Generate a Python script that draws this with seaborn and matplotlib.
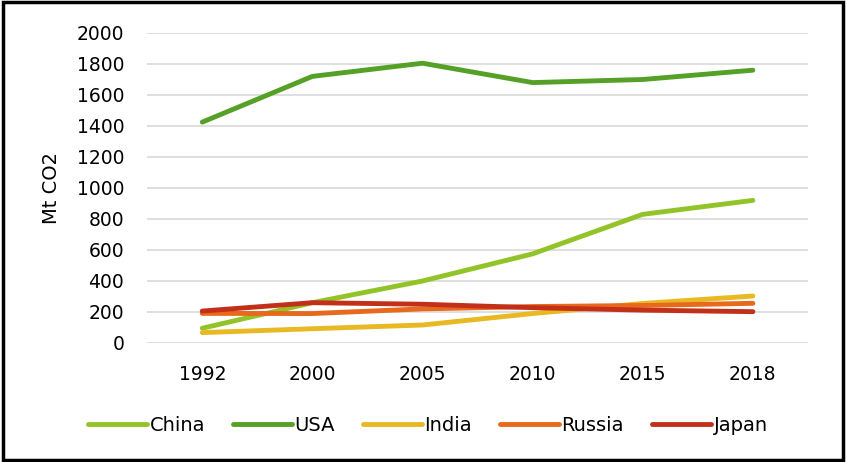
import pandas as pd
import matplotlib.pyplot as plt
import seaborn as sns
from matplotlib.patches import Rectangle

# values
YEARS = ['1992', '2000', '2005', '2010', '2015', '2018']
COUNTRIES = ['China', 'USA', 'India', 'Russia', 'Japan']
china = [95, 260, 400, 575, 830, 920]
usa = [1425, 1720, 1805, 1680, 1700, 1760]
india = [67, 92, 116, 190, 255, 303]
russia = [191, 190, 220, 235, 242, 256]
japan = [206, 260, 250, 228, 212, 202]

COLORS = ['#92c42a', '#55a127', '#e8b922', '#e8681c', '#c3301a']

sns.set_style('white')
plt.rcParams['font.family'] = ['DejaVu Sans']
plt.rcParams['text.color'] = 'black'

df = pd.DataFrame({'year': YEARS * 5,
                   'country': [c for c in COUNTRIES for _ in YEARS],
                   'co2': china + usa + india + russia + japan})

fig = plt.figure(figsize=(8.46, 4.62), dpi=100)
ax = fig.add_axes([0.174, 0.2576, 0.781, 0.671])

sns.lineplot(data=df, x='year', y='co2', hue='country', hue_order=COUNTRIES,
             palette=COLORS, linewidth=3.5, sort=False, ax=ax,
             solid_capstyle='round')
for ln in ax.lines:
    ln.set_clip_on(False)

ax.set_xlim(-0.5, 5.5)
ax.set_ylim(0, 2000)
ax.set_yticks(range(0, 2001, 200))
ax.grid(axis='y', color='#d9d9d9', linewidth=1.2)
ax.set_axisbelow(True)
for s in ax.spines.values():
    s.set_visible(False)
ax.tick_params(axis='both', length=0, labelsize=13.5, colors='black')
ax.tick_params(axis='y', pad=16.5)
ax.tick_params(axis='x', pad=16)
ax.set_xlabel('')
ax.set_ylabel('Mt CO2', fontsize=14, labelpad=11, color='black')

leg = ax.legend(loc='upper center', bbox_to_anchor=(0.425, -0.18), ncol=5,
                frameon=False, fontsize=14, handlelength=3.0, handletextpad=0.15,
                columnspacing=1.45)
for t in leg.get_texts():
    t.set_color('black')

# black frame around the chart
fig.add_artist(Rectangle((0.003, 0.004), 0.994, 0.992, transform=fig.transFigure,
                         fill=False, edgecolor='black', linewidth=2.5))

fig.savefig('out.png', dpi=100)
